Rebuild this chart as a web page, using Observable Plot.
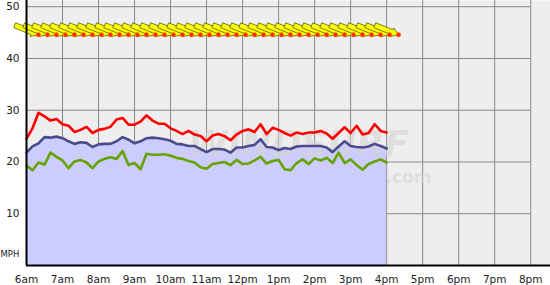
<!DOCTYPE html>
<html><head><meta charset="utf-8">
<script src="https://cdn.jsdelivr.net/npm/d3@7"></script>
<script src="https://cdn.jsdelivr.net/npm/@observablehq/plot@0.6"></script>
<style>body{margin:0;background:#fff;} svg{display:block;}</style>
</head><body><div id="chart"></div>
<script>
// Wind speed readings (mph), every 10 minutes from 6:00am to 4:00pm
const startHour = 6, stepMinutes = 10;
const gust = [24.5, 26.5, 29.5, 28.8, 28.0, 28.3, 27.3, 27.0, 25.8, 26.2, 26.8, 25.6, 26.2, 26.4, 26.8, 28.2, 28.5, 27.2, 27.2, 27.8, 29.0, 28.0, 27.4, 27.4, 26.5, 26.0, 25.4, 26.0, 25.3, 25.0,
  24.0, 25.1, 25.4, 25.0, 24.2, 25.3, 26.0, 26.3, 25.8, 27.3, 25.4, 26.6, 26.2, 25.6, 25.1, 25.7, 25.4, 25.7, 25.7, 26.0, 25.5, 24.5, 25.6, 26.7, 25.6, 27.0, 25.3, 25.6, 27.3, 26.0, 25.7];
const avg = [21.8, 23.0, 23.6, 24.8, 24.7, 24.9, 24.6, 24.0, 23.5, 23.8, 23.7, 22.9, 23.4, 23.5, 23.5, 24.0, 24.8, 24.3, 23.6, 24.0, 24.6, 24.7, 24.6, 24.4, 24.1, 23.5, 23.4, 23.1, 23.1, 22.5,
  21.9, 22.5, 22.5, 22.4, 21.8, 22.8, 22.8, 23.1, 23.3, 24.4, 22.9, 22.8, 22.3, 22.7, 22.5, 23.0, 23.1, 23.1, 23.1, 23.1, 22.8, 21.9, 23.0, 24.0, 23.1, 22.9, 22.8, 23.0, 23.5, 23.1, 22.6];
const lull = [19.3, 18.4, 19.9, 19.5, 21.8, 21.0, 20.3, 18.8, 20.1, 20.4, 19.9, 18.8, 20.1, 20.6, 20.9, 20.6, 22.1, 19.4, 19.8, 18.6, 21.6, 21.4, 21.4, 21.5, 21.2, 20.8, 20.6, 20.2, 19.9, 19.0,
  18.7, 19.6, 19.8, 20.0, 19.4, 20.4, 19.6, 19.7, 20.3, 21.0, 19.7, 20.2, 20.4, 18.6, 18.4, 19.8, 20.5, 19.6, 20.7, 20.3, 20.8, 19.8, 21.8, 19.8, 20.5, 19.4, 18.5, 19.6, 20.1, 20.5, 19.9];

// Wind direction (degrees, "from"), every 15 minutes from 6:00am to 4:00pm
const dirStartHour = 6, dirStepMinutes = 15;
const windDir = [292, 292, 292, 292, 292, 292, 292, 292, 292, 292, 292, 292, 292, 292, 292, 292, 292, 292, 292, 292,
  292, 292, 292, 292, 292, 292, 292, 292, 292, 292, 292, 292, 292, 292, 292, 292, 292, 292, 292, 292, 292];

// Axis ticks
const hourTicks = [6, 7, 8, 9, 10, 11, 12, 13, 14, 15, 16, 17, 18, 19, 20];
const hourLabels = ["6am", "7am", "8am", "9am", "10am", "11am", "12pm", "1pm", "2pm", "3pm", "4pm", "5pm", "6pm", "7pm", "8pm"];
const mphTicks = [10, 20, 30, 40, 50];

const speed = gust.map((g, i) => ({t: startHour + i * stepMinutes / 60, gust: g, avg: avg[i], lull: lull[i]}));
const dirs = windDir.map((d, i) => ({t: dirStartHour + i * dirStepMinutes / 60, dir: d}));

const symCache = new Map();
function arrowSymbol(fromDeg) {
  const key = "a" + fromDeg;
  if (symCache.has(key)) return symCache.get(key);
  const b = (fromDeg + 180) * Math.PI / 180;
  const ux = Math.sin(b), uy = -Math.cos(b), nx = -uy, ny = ux;
  const L = 12.8, hw = 2.6, hh = 4.6, hl = 7;
  const pts = [[-L, hw], [L - hl, hw], [L - hl, hh], [L, 0], [L - hl, -hh], [L - hl, -hw], [-L, -hw]];
  const s = {draw(ctx) {
    pts.forEach(([a, c], i) => { const x = a * ux + c * nx, y = a * uy + c * ny; i ? ctx.lineTo(x, y) : ctx.moveTo(x, y); });
    ctx.closePath();
  }};
  symCache.set(key, s);
  return s;
}
function tipSymbol(fromDeg) {
  const key = "t" + fromDeg;
  if (symCache.has(key)) return symCache.get(key);
  const b = (fromDeg + 180) * Math.PI / 180;
  const tx = Math.sin(b) * 12.8, ty = -Math.cos(b) * 12.8;
  const s = {draw(ctx) { ctx.moveTo(tx + 2.2, ty); ctx.arc(tx, ty, 2.2, 0, 2 * Math.PI); ctx.closePath(); }};
  symCache.set(key, s);
  return s;
}

const chart = Plot.plot({
  width: 550, height: 285,
  marginLeft: 26, marginRight: 0, marginTop: 0, marginBottom: 20,
  style: {fontFamily: "'DejaVu Sans', Verdana, sans-serif", fontSize: "10px", color: "#222", background: "#fff"},
  x: {domain: [6, 20.55], axis: null},
  y: {domain: [0, 51.2], axis: null},
  marks: [
    Plot.frame({fill: "#eeeeee", stroke: null}),
    Plot.gridX(hourTicks.slice(1), {stroke: "#888", strokeOpacity: 1}),
    Plot.ruleY(mphTicks, {x1: hourTicks[0], x2: hourTicks[hourTicks.length - 1], stroke: "#888", strokeOpacity: 1}),
    Plot.areaY(speed, {x: "t", y: "avg", fill: "#ccccff"}),
    Plot.text(["WINDSURF"], {frameAnchor: "top-left", dx: 272, dy: 130, fontSize: 36, fontWeight: "bold", fontStyle: "italic", fill: "#d4d4d4", fillOpacity: 0.6, textAnchor: "middle"}),
    Plot.text([".com"], {frameAnchor: "top-left", dx: 382, dy: 170, fontSize: 17, fontWeight: "bold", fill: "#d4d4d4", fillOpacity: 0.6, textAnchor: "middle"}),
    Plot.line(speed, {x: "t", y: "gust", stroke: "#ff0000", strokeWidth: 2.6}),
    Plot.line(speed, {x: "t", y: "avg", stroke: "#4b4b8c", strokeWidth: 2.6}),
    Plot.line(speed, {x: "t", y: "lull", stroke: "#66a300", strokeWidth: 2.6}),
    Plot.dot(dirs, {x: "t", frameAnchor: "top", dy: 29.5, symbol: d => arrowSymbol(d.dir), r: 5, fill: "#ffff00", stroke: "#5c5c10", strokeWidth: 0.8}),
    Plot.dot(dirs, {x: "t", frameAnchor: "top", dy: 29.5, symbol: d => tipSymbol(d.dir), r: 2, fill: "#ff2a00", stroke: "#e08000", strokeWidth: 0.6}),
    Plot.ruleX([hourTicks[0]], {stroke: "#000", strokeWidth: 2}),
    Plot.ruleY([0], {stroke: "#000", strokeWidth: 2}),
    Plot.axisY({ticks: mphTicks, tickSize: 0, tickPadding: 7, label: null, fontSize: 10.5, fill: "#222"}),
    Plot.axisX({ticks: hourTicks, tickFormat: d => hourLabels[hourTicks.indexOf(d)], tickSize: 0, tickPadding: 10, label: null, fontSize: 10.5, fill: "#222"}),
    Plot.text(["MPH"], {frameAnchor: "bottom-left", dx: -26, dy: -9, textAnchor: "start", fontSize: 8.5, fill: "#222"})
  ]
});
document.getElementById("chart").appendChild(chart);
</script>
</body></html>
